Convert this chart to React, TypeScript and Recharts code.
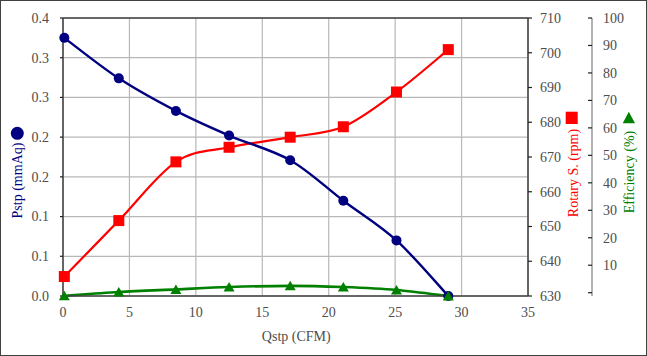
import React from 'react';
import { ComposedChart, Line, XAxis, YAxis, CartesianGrid, ReferenceLine, Label } from 'recharts';

const qstp = [0.1, 4.2, 8.5, 12.5, 17.1, 21.1, 25.1, 29.0];
const pstp = [0.325, 0.274, 0.233, 0.202, 0.171, 0.12, 0.07, 0.0];
const rotary = [635.6, 651.7, 668.6, 672.8, 675.7, 678.7, 688.7, 700.9];
const efficiency = [-1.1, 0.25, 1.2, 2.05, 2.5, 2.05, 1.0, -1.2];

const xTicks = [0, 5, 10, 15, 20, 25, 30, 35];
const pstpTicks = [0, 0.05, 0.1, 0.15, 0.2, 0.25, 0.3, 0.35];
const pstpTickLabels = ['0.0', '0.1', '0.1', '0.2', '0.2', '0.3', '0.3', '0.4'];
const rpmTicks = [630, 640, 650, 660, 670, 680, 690, 700, 710];
const effTicks = [0, 10, 20, 30, 40, 50, 60, 70, 80, 90, 100];

const data = qstp.map((q, i) => ({ q, pstp: pstp[i], rpm: rotary[i], eff: efficiency[i] }));

const FONT = 'Liberation Serif, Times New Roman, serif';
const TICK_COLOR = '#4d4d4d';
const BORDER = '#404040';
const NAVY = '#000080';
const RED = '#ff0000';
const GREEN = '#008000';
const TXT = { fontFamily: FONT };

// Catmull-Rom like smoothing (Excel smoothed line)
const smoothCurve: any = (context: any) => {
  let pts: number[][] = [];
  return {
    areaStart() {},
    areaEnd() {},
    lineStart() {
      pts = [];
    },
    point(x: number, y: number) {
      pts.push([x, y]);
    },
    lineEnd() {
      if (!pts.length) return;
      context.moveTo(pts[0][0], pts[0][1]);
      const t = 1 / 6;
      for (let i = 0; i < pts.length - 1; i++) {
        const p0 = pts[i - 1] || pts[i];
        const p1 = pts[i];
        const p2 = pts[i + 1];
        const p3 = pts[i + 2] || pts[i + 1];
        context.bezierCurveTo(
          p1[0] + (p2[0] - p0[0]) * t,
          p1[1] + (p2[1] - p0[1]) * t,
          p2[0] - (p3[0] - p1[0]) * t,
          p2[1] - (p3[1] - p1[1]) * t,
          p2[0],
          p2[1]
        );
      }
    },
  };
};

const CircleDot = (p: any) => <circle key={p.index} cx={p.cx} cy={p.cy} r={5} fill={NAVY} />;
const SquareDot = (p: any) => (
  <rect key={p.index} x={p.cx - 5.5} y={p.cy - 5.5} width={11} height={11} fill={RED} />
);
const TriDot = (p: any) => (
  <polygon
    key={p.index}
    points={`${p.cx},${p.cy - 5} ${p.cx + 5.5},${p.cy + 4.5} ${p.cx - 5.5},${p.cy + 4.5}`}
    fill={GREEN}
  />
);

const AxisTick = (anchor: 'start' | 'end' | 'middle', fmt?: (v: number, i: number) => string) => (p: any) => {
  const { x, y, payload, index } = p;
  const vertical = anchor !== 'middle';
  return (
    <text
      x={x}
      y={y}
      dy={vertical ? '0.35em' : '0.71em'}
      textAnchor={anchor}
      fill={TICK_COLOR}
      fontSize={14}
      fontFamily={FONT}
      style={TXT}
    >
      {fmt ? fmt(payload.value, index) : payload.value}
    </text>
  );
};

const XTick = AxisTick('middle');
const LeftTick = AxisTick('end', (v, i) => pstpTickLabels[i]);
const RpmTick = AxisTick('start');

const EffTick = (p: any) => {
  const { x, y, payload } = p;
  return (
    <g>
      <line x1={x - 15} x2={x - 11} y1={y} y2={y} stroke="#202020" strokeWidth={1.2} />
      {payload.value !== 0 && (
        <text x={x} y={y} dy="0.35em" textAnchor="start" fill={TICK_COLOR} fontSize={14} fontFamily={FONT} style={TXT}>
          {payload.value}
        </text>
      )}
    </g>
  );
};

const LeftTitle = () => (
  <g>
    <text
      transform="translate(16.5,179.5) rotate(-90)"
      textAnchor="middle"
      dy="0.35em"
      fill={NAVY}
      fontSize={14}
      fontFamily={FONT}
      style={TXT}
    >
      Pstp (mmAq)
    </text>
    <circle cx={16.3} cy={132.3} r={6.5} fill={NAVY} />
  </g>
);

const RpmTitle = () => (
  <g>
    <text
      transform="translate(572,172) rotate(-90)"
      textAnchor="middle"
      dy="0.35em"
      fill={RED}
      fontSize={14}
      fontFamily={FONT}
      style={TXT}
    >
      Rotary S. (rpm)
    </text>
    <rect x={564.7} y={110.7} width={12} height={12.3} fill={RED} />
  </g>
);

const EffTitle = () => (
  <g>
    <text
      transform="translate(628,171) rotate(-90)"
      textAnchor="middle"
      dy="0.35em"
      fill={GREEN}
      fontSize={14}
      fontFamily={FONT}
      style={TXT}
    >
      Efficiency (%)
    </text>
    <polygon points="627.8,110.7 634,122.3 621.7,122.3" fill={GREEN} />
  </g>
);

const XTitle = () => (
  <text x={295.3} y={340.3} textAnchor="middle" fill={TICK_COLOR} fontSize={14} fontFamily={FONT} style={TXT}>
    Qstp (CFM)
  </text>
);

export default function App() {
  return (
    <div
      style={{
        position: 'absolute',
        left: 0,
        top: 0,
        width: 647,
        height: 356,
        boxSizing: 'border-box',
        border: `1px solid ${BORDER}`,
        background: '#ffffff',
        fontFamily: FONT,
      }}
    >
      <ComposedChart width={645} height={354} data={data} margin={{ top: 17, right: 0, bottom: 0, left: 0 }}>
        <CartesianGrid
          yAxisId="left"
          xAxisId="x"
          stroke="#b8b8b8"
          strokeWidth={1.2}
          horizontalValues={pstpTicks}
          verticalValues={xTicks}
        />
        <XAxis
          xAxisId="x"
          dataKey="q"
          type="number"
          domain={[0, 35]}
          ticks={xTicks}
          height={59}
          tickLine={false}
          tickSize={0}
          tickMargin={11}
          axisLine={{ stroke: BORDER, strokeWidth: 1.5 }}
          tick={XTick}
          interval={0}
        >
          <Label content={XTitle} />
        </XAxis>
        <YAxis
          yAxisId="left"
          orientation="left"
          type="number"
          domain={[0, 0.35]}
          ticks={pstpTicks}
          width={62}
          tickSize={3}
          tickMargin={11}
          interval={0}
          tickLine={{ stroke: '#202020', strokeWidth: 1.2 }}
          axisLine={{ stroke: BORDER, strokeWidth: 1.5 }}
          tick={LeftTick}
        >
          <Label content={LeftTitle} />
        </YAxis>
        <YAxis
          yAxisId="r1rpm"
          orientation="right"
          type="number"
          domain={[630, 710]}
          ticks={rpmTicks}
          width={64}
          tickSize={4}
          tickMargin={8}
          interval={0}
          tickLine={{ stroke: '#202020', strokeWidth: 1.2 }}
          axisLine={{ stroke: BORDER, strokeWidth: 1.5 }}
          tick={RpmTick}
        >
          <Label content={RpmTitle} />
        </YAxis>
        <YAxis
          yAxisId="r2eff"
          orientation="right"
          type="number"
          domain={[0, 100]}
          ticks={effTicks}
          width={54}
          tickLine={false}
          tickSize={0}
          tickMargin={11}
          interval={0}
          axisLine={{ stroke: '#808080', strokeWidth: 1.2 }}
          tick={EffTick}
        >
          <Label content={EffTitle} />
        </YAxis>
        <ReferenceLine yAxisId="left" xAxisId="x" y={0.35} stroke={BORDER} strokeWidth={1.5} ifOverflow="extendDomain" />
        <Line
          xAxisId="x"
          yAxisId="r1rpm"
          dataKey="rpm"
          type={smoothCurve}
          stroke={RED}
          strokeWidth={2.2}
          dot={SquareDot}
          activeDot={false}
          isAnimationActive={false}
        />
        <Line
          xAxisId="x"
          yAxisId="left"
          dataKey="pstp"
          type={smoothCurve}
          stroke={NAVY}
          strokeWidth={2.4}
          dot={CircleDot}
          activeDot={false}
          isAnimationActive={false}
        />
        <Line
          xAxisId="x"
          yAxisId="r2eff"
          dataKey="eff"
          type={smoothCurve}
          stroke={GREEN}
          strokeWidth={2.6}
          dot={TriDot}
          activeDot={false}
          isAnimationActive={false}
        />
      </ComposedChart>
    </div>
  );
}
